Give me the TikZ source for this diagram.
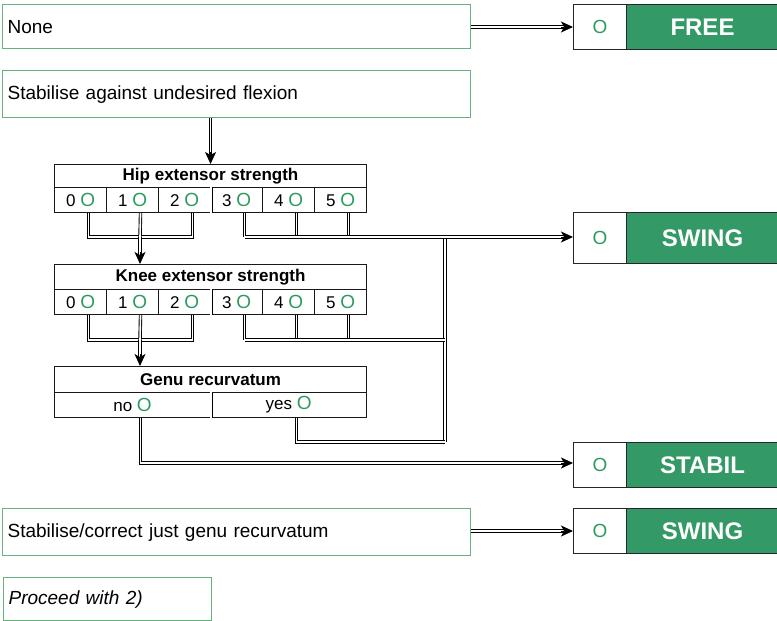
\documentclass[tikz,border=0pt]{standalone}
\usepackage{fontspec}
\setmainfont{Liberation Sans}
\usetikzlibrary{arrows.meta,calc}
\definecolor{boxgreen}{RGB}{100,178,128}
\definecolor{darkgreen}{RGB}{51,153,102}
\definecolor{ogreen}{RGB}{45,155,95}
\newcommand\grO{\textcolor{ogreen}{\fontsize{19}{20}\selectfont O}}
\tikzset{
  txtbox/.style={draw=boxgreen, line width=1.2pt, anchor=north west, inner xsep=5pt, inner ysep=0pt,
    align=left, font=\fontsize{19}{22}\selectfont},
  resO/.style={draw=black!85, line width=1pt, fill=white, minimum width=53pt, anchor=north west,
    text=ogreen, inner sep=0pt, font=\fontsize{19}{22}\selectfont},
  resT/.style={draw=black!85, line width=1pt, fill=darkgreen, minimum width=152pt, anchor=north west,
    text=white, inner sep=0pt, font=\bfseries\fontsize{24}{28}\selectfont},
  hdr/.style={draw=black!90, line width=1.1pt, minimum width=312pt, anchor=north west, inner sep=0pt,
    font=\bfseries\fontsize{17}{20}\selectfont},
  cellbox/.style={draw=black!90, line width=1.1pt, minimum width=52pt, minimum height=25pt, anchor=north west,
    inner sep=0pt, font=\fontsize{17}{20}\selectfont},
  dbl/.style={draw=black, line width=0.9pt, double=white, double distance=1.6pt},
  tipline/.style={draw=black, line width=1pt, -{Stealth[length=12pt,width=11pt,inset=3pt]}},
  divline/.style={draw=black, line width=0.8pt, double=white, double distance=1.4pt},
}
\begin{document}
\begin{tikzpicture}[x=1pt,y=-1pt]
\useasboundingbox (0,0) rectangle (777,621);

% left text boxes
\node[txtbox, text width=458pt, minimum height=44pt] (none) at (2,4) {None};
\node[txtbox, text width=458pt, minimum height=47pt] (stab) at (2,70) {Stabilise against undesired flexion};
\node[txtbox, text width=458pt, minimum height=47pt] (gr) at (2,508) {Stabilise/correct just genu recurvatum};
\node[txtbox, text width=198pt, minimum height=43pt, font=\itshape\fontsize{19}{22}\selectfont] (proc) at (3,577) {Proceed with 2)};

% results
\node[resO, minimum height=45pt] (freeO) at (573,4) {O};
\node[resT, minimum height=45pt] (freeT) at (626,4) {FREE};
\node[resO, minimum height=51pt] (sw1O) at (573,212) {O};
\node[resT, minimum height=51pt] (sw1T) at (626,212) {SWING};
\node[resO, minimum height=45pt] (stbO) at (573,442) {O};
\node[resT, minimum height=45pt] (stbT) at (626,442) {STABIL};
\node[resO, minimum height=45pt] (sw2O) at (573,508) {O};
\node[resT, minimum height=45pt] (sw2T) at (626,508) {SWING};

% Hip table
\node[hdr, minimum height=23pt] (hiph) at (54,164) {Hip extensor strength};
\foreach \i in {0,...,5} {
  \node[cellbox] (hip\i) at (54+52*\i,187) {\i\ \grO};
}
\draw[divline] (hip2.north east) -- (hip2.south east);

% Knee table
\node[hdr, minimum height=25pt] (kneeh) at (54,264) {Knee extensor strength};
\foreach \i in {0,...,5} {
  \node[cellbox] (knee\i) at (54+52*\i,289) {\i\ \grO};
}
\draw[divline] (knee2.north east) -- (knee2.south east);

% Genu table
\node[hdr, minimum height=26pt] (genh) at (54,366) {Genu recurvatum};
\node[cellbox, minimum width=156pt] (no) at (54,392) {no \grO};
\node[cellbox, minimum width=156pt] (yes) at (210,392) {yes \grO};
\draw[divline] (no.north east) -- (no.south east);

% junction coordinates
\coordinate (hjL) at (140,237);
\coordinate (hjR) at (445,237);
\coordinate (kjL) at (140,340);
\coordinate (kjR) at (445,340);
\coordinate (yj) at (445,442);
\coordinate (nj) at (140,463);

% None -> FREE
\draw[dbl, shorten >=9pt] (none.east |- freeO.west) -- (freeO.west);
\draw[tipline] ($(freeO.west)+(-12,0)$) -- (freeO.west);

% Stabilise -> hip
\draw[dbl, shorten >=9pt] (stab.south -| hiph.north) -- (hiph.north);
\draw[tipline] ($(hiph.north)+(0,-12)$) -- (hiph.north);

% hip left group -> knee
\draw[dbl] ([xshift=8pt]hip0.south) -- ([xshift=8pt]hip0.south |- hjL) -- ([xshift=8pt]hip2.south |- hjL) -- ([xshift=8pt]hip2.south);
\draw[dbl] ([xshift=8pt]hip1.south) -- (hjL);
\draw[dbl, shorten >=9pt] (hjL) -- (hjL |- kneeh.north);
\draw[tipline] ($(hjL |- kneeh.north)+(0,-12)$) -- (hjL |- kneeh.north);

% hip right group -> SWING
\draw[dbl] ([xshift=8pt]hip3.south) -- ([xshift=8pt]hip3.south |- hjR);
\draw[dbl] ([xshift=8pt]hip4.south) -- ([xshift=8pt]hip4.south |- hjR);
\draw[dbl] ([xshift=8pt]hip5.south) -- ([xshift=8pt]hip5.south |- hjR);
\draw[dbl] (hjR) -- (yj);
\draw[dbl, shorten >=9pt] ([xshift=8pt]hip3.south |- hjR) -- (sw1O.west |- hjR);
\draw[tipline] ($(sw1O.west |- hjR)+(-12,0)$) -- (sw1O.west |- hjR);

% knee left group -> genu
\draw[dbl] ([xshift=8pt]knee0.south) -- ([xshift=8pt]knee0.south |- kjL) -- ([xshift=8pt]knee2.south |- kjL) -- ([xshift=8pt]knee2.south);
\draw[dbl] ([xshift=8pt]knee1.south) -- (kjL);
\draw[dbl, shorten >=9pt] (kjL) -- (kjL |- genh.north);
\draw[tipline] ($(kjL |- genh.north)+(0,-12)$) -- (kjL |- genh.north);

% knee right group
\draw[dbl] ([xshift=8pt]knee3.south) -- ([xshift=8pt]knee3.south |- kjR);
\draw[dbl] ([xshift=8pt]knee4.south) -- ([xshift=8pt]knee4.south |- kjR);
\draw[dbl] ([xshift=8pt]knee5.south) -- ([xshift=8pt]knee5.south |- kjR);
\draw[dbl] ([xshift=8pt]knee3.south |- kjR) -- (kjR);

% genu yes
\draw[dbl] ([xshift=8pt]yes.south) -- ([xshift=8pt]yes.south |- yj) -- (yj);

% genu no -> STABIL
\draw[dbl, shorten >=9pt] ([xshift=8pt]no.south) -- ([xshift=8pt]no.south |- nj) -- (stbO.west |- nj);
\draw[tipline] ($(stbO.west |- nj)+(-12,0)$) -- (stbO.west |- nj);

% gr -> SWING 2
\draw[dbl, shorten >=9pt] (gr.east |- sw2O.west) -- (sw2O.west);
\draw[tipline] ($(sw2O.west)+(-12,0)$) -- (sw2O.west);
\end{tikzpicture}
\end{document}
